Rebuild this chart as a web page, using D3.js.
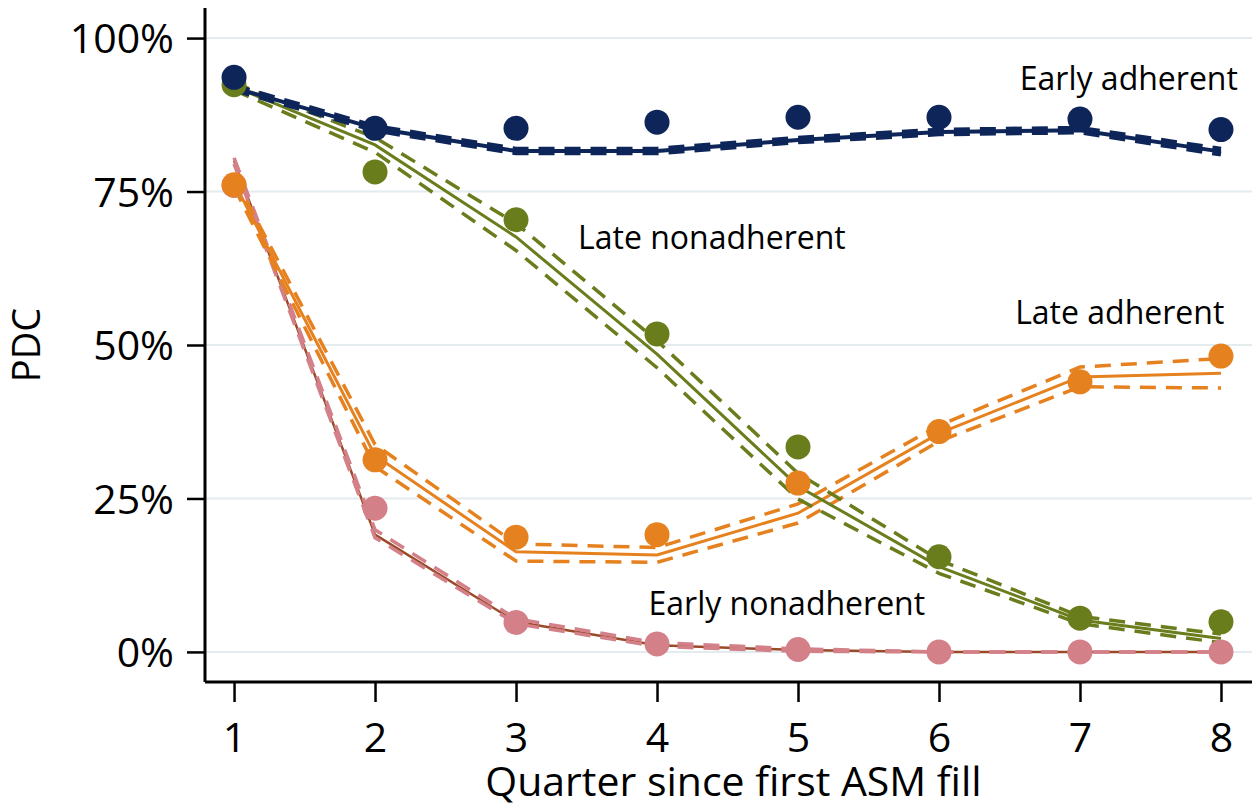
<!DOCTYPE html>
<html>
<head>
<meta charset="utf-8">
<script src="https://cdn.jsdelivr.net/npm/d3@7"></script>
<style>
    body { margin: 0; background: #fff; }
    svg { display: block; }
    text { font-family: "Open Sans", sans-serif; fill: #000; }
</style>
</head>
<body>
<svg width="1260" height="808"></svg>
<script>
/* globals d3 */

const quarters = [1, 2, 3, 4, 5, 6, 7, 8];

// observed PDC (%)
const obsEarlyAdh = [93.6, 85.3, 85.3, 86.3, 87.1, 87.1, 86.8, 85.1];
const obsLateNon = [92.4, 78.2, 70.4, 51.8, 33.4, 15.5, 5.5, 4.9];
const obsLateAdh = [76.1, 31.3, 18.7, 19.1, 27.5, 35.9, 44.0, 48.2];
const obsEarlyNon = [76.0, 23.4, 4.8, 1.3, 0.4, 0.0, 0.0, 0.0];

// fitted trajectories (%) and 95% limits
const fitEarlyAdh = [91.9, 85.3, 81.6, 81.6, 83.4, 84.7, 85.0, 81.5];
const loEarlyAdh = [91.6, 85.0, 81.3, 81.3, 83.1, 84.4, 84.7, 81.1];
const hiEarlyAdh = [92.2, 85.6, 81.9, 81.9, 83.7, 85.0, 85.3, 81.9];

const fitLateNon = [92.1, 82.6, 67.6, 48.5, 27.0, 13.9, 5.2, 2.2];
const loLateNon = [91.5, 81.4, 65.4, 46.3, 24.9, 12.8, 4.6, 1.5];
const hiLateNon = [92.7, 83.8, 69.8, 50.7, 29.1, 15.0, 5.8, 2.9];

const fitLateAdh = [76.5, 32.0, 16.3, 15.8, 22.6, 35.6, 44.8, 45.4];
const loLateAdh = [75.7, 30.2, 14.8, 14.6, 21.0, 34.3, 43.2, 43.0];
const hiLateAdh = [77.3, 33.8, 17.6, 17.0, 24.1, 36.9, 46.4, 47.8];

const fitEarlyNon = [80.0, 19.1, 4.9, 1.1, 0.3, 0.0, 0.0, 0.0];
const loEarlyNon = [79.5, 18.6, 4.6, 0.9, 0.1, 0.0, 0.0, 0.0];
const hiEarlyNon = [80.5, 19.9, 5.4, 1.5, 0.5, 0.0, 0.0, 0.0];

const yTicks = [0, 25, 50, 75, 100];

const groups = [
    {name: 'Early adherent', obs: obsEarlyAdh, fit: fitEarlyAdh, lo: loEarlyAdh, hi: hiEarlyAdh,
        color: '#0d2559', fitColor: '#0d2559', fitWidth: 4, ciWidth: 5, lx: 8.12, ly: 91.6},
    {name: 'Late nonadherent', obs: obsLateNon, fit: fitLateNon, lo: loLateNon, hi: hiLateNon,
        color: '#6a7d1c', fitColor: '#6a7d1c', fitWidth: 3, ciWidth: 3.5, lx: 3.44, ly: 65.6, start: true},
    {name: 'Late adherent', obs: obsLateAdh, fit: fitLateAdh, lo: loLateAdh, hi: hiLateAdh,
        color: '#e6811f', fitColor: '#e6811f', fitWidth: 3, ciWidth: 3.5, lx: 6.54, ly: 53.4, start: true},
    {name: 'Early nonadherent', obs: obsEarlyNon, fit: fitEarlyNon, lo: loEarlyNon, hi: hiEarlyNon,
        color: '#d38089', fitColor: '#9a4a28', fitWidth: 2.5, ciWidth: 3.5, lx: 3.94, ly: 6.0, start: true}
];

const svg = d3.select('svg');

const x = d3.scaleLinear().domain([0.794, 8.22]).range([205, 1252]);
const y = d3.scaleLinear().domain([-4.9, 104.9]).range([682, 8]);

// grid
svg.append('g')
.selectAll('line')
.data(yTicks)
.enter().append('line')
.attr('x1', x.range()[0])
.attr('x2', x.range()[1])
.attr('y1', d => y(d))
.attr('y2', d => y(d))
.attr('stroke', '#e3ebef')
.attr('stroke-width', 2);

// axes
const yAxis = svg.append('g')
.attr('transform', `translate(${x.range()[0]},0)`)
.call(d3.axisLeft(y).tickValues(yTicks).tickFormat(d => d + '%').tickSize(18).tickPadding(13));

const xAxis = svg.append('g')
.attr('transform', `translate(0,${y.range()[0]})`)
.call(d3.axisBottom(x).tickValues(quarters).tickFormat(d3.format('d')).tickSize(20).tickPadding(21));

[yAxis, xAxis].forEach(a => {
    a.select('.domain').attr('stroke', '#000').attr('stroke-width', 3);
    a.selectAll('.tick line').attr('stroke', '#000').attr('stroke-width', 2.5);
    a.selectAll('.tick text').style('font-size', '41px').attr('fill', '#000');
});
yAxis.select('.domain').attr('d', `M0,${y.range()[0]}V${y.range()[1]}`);
xAxis.select('.domain').attr('d', `M${x.range()[0]},0H${x.range()[1]}`);
yAxis.selectAll('.tick text').attr('dy', '0.36em');

svg.append('text')
.attr('x', (x.range()[0] + x.range()[1]) / 2 + 5)
.attr('y', 796)
.attr('text-anchor', 'middle')
.style('font-size', '41px')
.text('Quarter since first ASM fill');

svg.append('text')
.attr('transform', `translate(40,${(y(0) + y(100)) / 2}) rotate(-90)`)
.attr('text-anchor', 'middle')
.style('font-size', '38px')
.text('PDC');

// lines, drawn back to front so the first group stays on top
const line = d3.line()
.x((d, i) => x(quarters[i]))
.y(d => y(d));

const order = groups.slice().reverse();

const lines = svg.append('g').attr('fill', 'none');
order.forEach(g => {
    lines.append('path')
    .attr('d', line(g.fit))
    .attr('stroke', g.fitColor)
    .attr('stroke-width', g.fitWidth);
    [g.lo, g.hi].forEach(ci => {
        lines.append('path')
        .attr('d', line(ci))
        .attr('stroke', g.color)
        .attr('stroke-width', g.ciWidth)
        .attr('stroke-dasharray', '16,10');
    });
});

// points
order.forEach(g => {
    svg.append('g')
    .selectAll('circle')
    .data(g.obs)
    .enter().append('circle')
    .attr('cx', (d, i) => x(quarters[i]))
    .attr('cy', d => y(d))
    .attr('r', 12.5)
    .attr('fill', g.color);
});

// labels
svg.append('g')
.selectAll('text')
.data(groups)
.enter().append('text')
.attr('x', d => x(d.lx))
.attr('y', d => y(d.ly))
.attr('text-anchor', d => d.start ? 'start' : 'end')
.style('font-size', '32px')
.text(d => d.name);
</script>
</body>
</html>
